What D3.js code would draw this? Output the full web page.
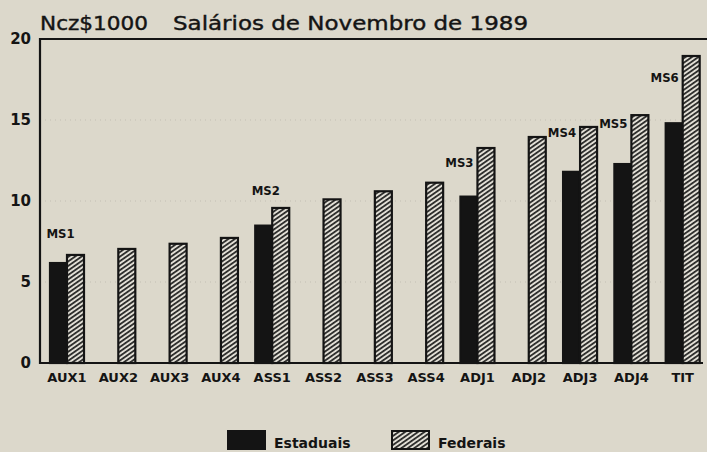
<!DOCTYPE html>
<html>
<head>
<meta charset="utf-8">
<script src="https://cdn.jsdelivr.net/npm/d3@7"></script>
<style>
  body { margin: 0; background: #dcd8cb; }
  svg { display: block; }
  text { fill: #141414; }
</style>
</head>
<body>
<svg width="707" height="452"></svg>
<script>
// data (Ncz$1000)
var categories = ["AUX1", "AUX2", "AUX3", "AUX4", "ASS1", "ASS2", "ASS3", "ASS4", "ADJ1", "ADJ2", "ADJ3", "ADJ4", "TIT"];
var estaduais = [6.17, null, null, null, 8.48, null, null, null, 10.27, null, 11.8, 12.28, 14.8];
var federais  = [6.67, 7.04, 7.36, 7.72, 9.57, 10.1, 10.6, 11.13, 13.27, 13.95, 14.57, 15.3, 18.95];
var seriesNames = ["Estaduais", "Federais"];
var yTicks = [0, 5, 10, 15, 20];
var gridTicks = [5, 10, 15];

// MS markers: category and level (value) where the label sits
var msNames = ["MS1", "MS2", "MS3", "MS4", "MS5", "MS6"];
var msCats  = ["AUX1", "ASS1", "ADJ1", "ADJ3", "ADJ4", "TIT"];
var msLevel = [7.7, 10.4, 12.1, 13.95, 14.5, 17.35];

var titleLeft = "Ncz$1000",
    titleRight = "Salários de Novembro de 1989";

var svg = d3.select("svg"),
    ink = "#141414",
    plot = {left: 40, right: 707, top: 39, bottom: 363};

var x = d3.scaleBand().domain(categories).range([plot.left, plot.right]),
    x1 = d3.scaleBand().domain(seriesNames).range([10, 44]),
    y = d3.scaleLinear().domain([0, 20]).range([plot.bottom, plot.top]);

// hatch pattern, fairly flat stripes like the print
var defs = svg.append("defs");
var pat = defs.append("pattern")
    .attr("id", "hatch")
    .attr("patternUnits", "userSpaceOnUse")
    .attr("width", 3.7).attr("height", 3.7)
    .attr("patternTransform", "rotate(55)");
pat.append("rect").attr("width", 3.7).attr("height", 3.7).attr("fill", "#e2dfd6");
pat.append("line")
    .attr("x1", 0.9).attr("y1", -1).attr("x2", 0.9).attr("y2", 4.7)
    .attr("stroke", ink).attr("stroke-width", 1.6);

// faint dotted grid
svg.append("g").selectAll("line")
  .data(gridTicks)
  .enter().append("line")
    .attr("x1", plot.left).attr("x2", plot.right - 4)
    .attr("y1", function(d) { return y(d); })
    .attr("y2", function(d) { return y(d); })
    .attr("stroke", "#8a877e")
    .attr("stroke-dasharray", "1,4")
    .attr("opacity", 0.3);

// title
svg.append("text")
    .attr("x", plot.left).attr("y", 30)
    .attr("textLength", 108).attr("lengthAdjust", "spacingAndGlyphs")
    .style("font-family", "DejaVu Sans, sans-serif")
    .style("font-size", "19px")
    .style("stroke", ink).style("stroke-width", 0.4)
    .text(titleLeft);
svg.append("text")
    .attr("x", 173).attr("y", 30)
    .attr("textLength", 355).attr("lengthAdjust", "spacingAndGlyphs")
    .style("font-family", "DejaVu Sans, sans-serif")
    .style("font-size", "19px")
    .style("stroke", ink).style("stroke-width", 0.4)
    .text(titleRight);

// y axis labels (no ticks on the original)
var yAxis = d3.axisLeft(y).tickValues(yTicks).tickSize(0).tickPadding(9);
var gy = svg.append("g")
    .attr("transform", "translate(" + plot.left + ",0)")
    .call(yAxis);
gy.select(".domain").remove();
gy.selectAll("text")
    .style("font-family", "DejaVu Sans, sans-serif")
    .style("font-weight", "bold")
    .style("font-size", "15px")
    .style("fill", ink);

// x axis labels
var xAxis = d3.axisBottom(x).tickSize(0).tickPadding(10);
var gx = svg.append("g")
    .attr("transform", "translate(0," + plot.bottom + ")")
    .call(xAxis);
gx.select(".domain").remove();
gx.selectAll(".tick")
    .attr("transform", function(d) { return "translate(" + (x(d) + x1("Estaduais") + x1.bandwidth()) + ",0)"; });
gx.selectAll("text")
    .style("font-family", "DejaVu Sans, sans-serif")
    .style("font-weight", "bold")
    .style("font-size", "13px")
    .style("fill", ink);

// bars
var rows = categories.map(function(c, i) {
  return {cat: c, values: [
    {key: "Estaduais", value: estaduais[i]},
    {key: "Federais", value: federais[i]}
  ]};
});

var groups = svg.append("g").selectAll("g")
  .data(rows)
  .enter().append("g")
    .attr("transform", function(d) { return "translate(" + x(d.cat) + ",0)"; });

groups.selectAll("rect")
  .data(function(d) { return d.values.filter(function(v) { return v.value != null; }); })
  .enter().append("rect")
    .attr("x", function(d) { return x1(d.key); })
    .attr("y", function(d) { return y(d.value); })
    .attr("width", x1.bandwidth())
    .attr("height", function(d) { return plot.bottom - y(d.value); })
    .attr("fill", function(d) { return d.key == "Estaduais" ? ink : "url(#hatch)"; })
    .attr("stroke", ink)
    .attr("stroke-width", 2.2);

// frame: left, top, bottom
svg.append("path")
    .attr("d", "M" + plot.right + "," + plot.top + "H" + plot.left + "V" + plot.bottom + "H" + (plot.right - 4))
    .attr("fill", "none")
    .attr("stroke", ink)
    .attr("stroke-width", 2.2);

// MS labels
svg.append("g").selectAll("text")
  .data(msNames)
  .enter().append("text")
    .attr("x", function(d, i) {
      var k = categories.indexOf(msCats[i]);
      if (msLevel[i] > federais[k]) return x(msCats[i]) + x1("Estaduais") + x1.bandwidth() / 2 + 2;
      return x(msCats[i]) + x1("Federais") - 4;
    })
    .attr("y", function(d, i) { return y(msLevel[i]); })
    .attr("text-anchor", function(d, i) {
      var k = categories.indexOf(msCats[i]);
      return msLevel[i] > federais[k] ? "middle" : "end";
    })
    .style("font-family", "DejaVu Sans Condensed, DejaVu Sans, sans-serif")
    .style("font-weight", "bold")
    .style("font-size", "13px")
    .text(function(d) { return d; });

// legend
var legend = svg.append("g").selectAll("g")
  .data(seriesNames)
  .enter().append("g")
    .attr("transform", function(d, i) { return "translate(" + (228 + i * 164) + ",431)"; });
legend.append("rect")
    .attr("width", 37).attr("height", 18)
    .attr("fill", function(d) { return d == "Estaduais" ? ink : "url(#hatch)"; })
    .attr("stroke", ink)
    .attr("stroke-width", 2);
legend.append("text")
    .attr("x", 46).attr("y", 17)
    .style("font-family", "DejaVu Sans, sans-serif")
    .style("font-weight", "bold")
    .style("font-size", "14px")
    .text(function(d) { return d; });
</script>
</body>
</html>
